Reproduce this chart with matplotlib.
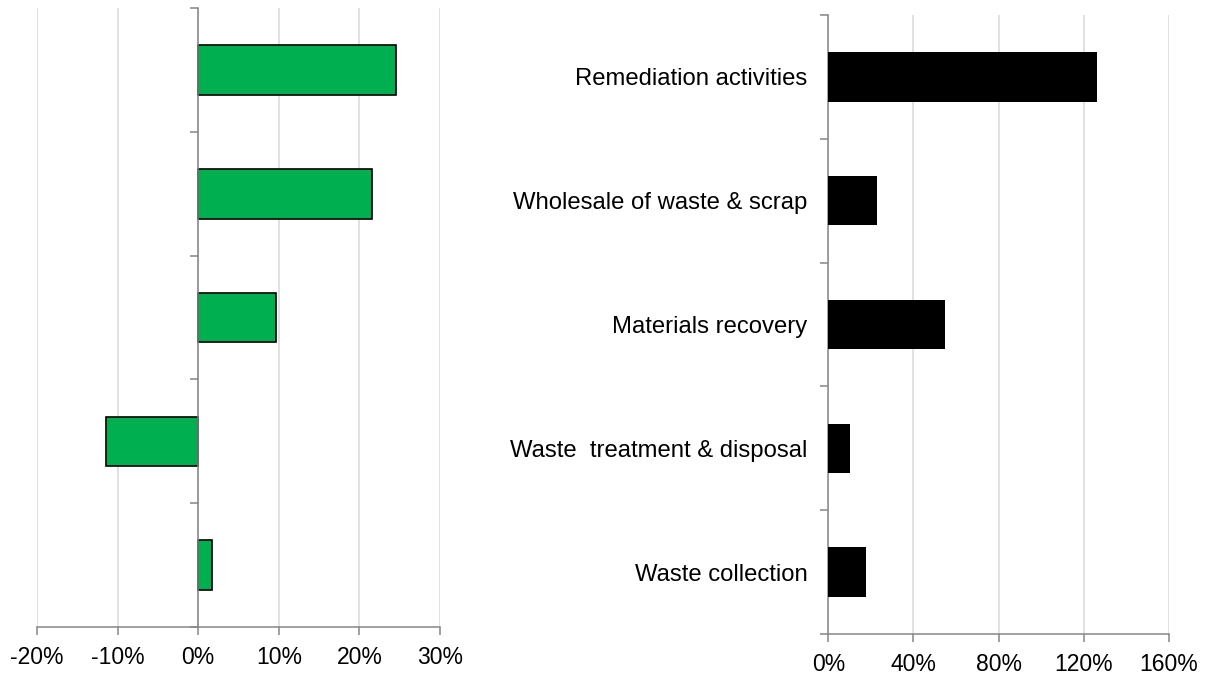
import matplotlib
matplotlib.use("Agg")
import matplotlib.pyplot as plt
from matplotlib.ticker import FuncFormatter
import numpy as np

plt.rcParams['font.family'] = ['Liberation Sans', 'DejaVu Sans']

# sectors, bottom to top
sectors = ["Waste collection", "Waste  treatment & disposal", "Materials recovery",
           "Wholesale of waste & scrap", "Remediation activities"]
change_left = [1.7, -11.4, 9.6, 21.6, 24.5]      # %
change_right = [17.5, 10.0, 55.0, 23.0, 126.0]   # %

left_ticks = [-20, -10, 0, 10, 20, 30]
right_ticks = [0, 40, 80, 120, 160]

axis_col = "#868686"
grid_col = "#D9D9D9"
fs = 16.5
pct = FuncFormatter(lambda v, p: "%d%%" % v)

fig = plt.figure(figsize=(12.06, 6.75), dpi=100)
ax1 = fig.add_axes([0.0307, 0.0711, 0.3341, 0.9169])
ax2 = fig.add_axes([0.6868, 0.0607, 0.2825, 0.9171])

y = np.arange(len(sectors))

def style(ax, ticks):
    ax.set_xlim(ticks[0], ticks[-1])
    ax.set_ylim(-0.5, len(sectors) - 0.5)
    ax.set_xticks(ticks)
    ax.xaxis.set_major_formatter(pct)
    ax.set_yticks(np.arange(len(sectors) + 1) - 0.5)
    ax.set_yticklabels([])
    for s in ["top", "right"]:
        ax.spines[s].set_visible(False)
    for s in ["left", "bottom"]:
        ax.spines[s].set_color(axis_col)
        ax.spines[s].set_linewidth(1.1)
    ax.tick_params(axis="both", which="major", color=axis_col, width=1.1, length=6,
                   labelsize=fs, pad=7.5)
    ax.tick_params(axis="y", length=5.5)
    ax.grid(axis="x", color=grid_col, linewidth=1.1)
    ax.set_axisbelow(True)

# left panel: green bars around zero
ax1.barh(y, change_left, height=0.4, color="#00B050", edgecolor="black", linewidth=1.2, zorder=3)
style(ax1, left_ticks)
ax1.spines["left"].set_position(("data", 0))
ax1.spines["left"].set_zorder(4)

# right panel: black bars with sector labels
ax2.barh(y, change_right, height=0.4, color="black", zorder=3)
style(ax2, right_ticks)
ax2.set_yticks(y, minor=True)
ax2.set_yticklabels(sectors, minor=True)
ax2.tick_params(axis="y", which="minor", length=0, pad=15, labelsize=17.2)

fig.savefig("out.png", dpi=100)
